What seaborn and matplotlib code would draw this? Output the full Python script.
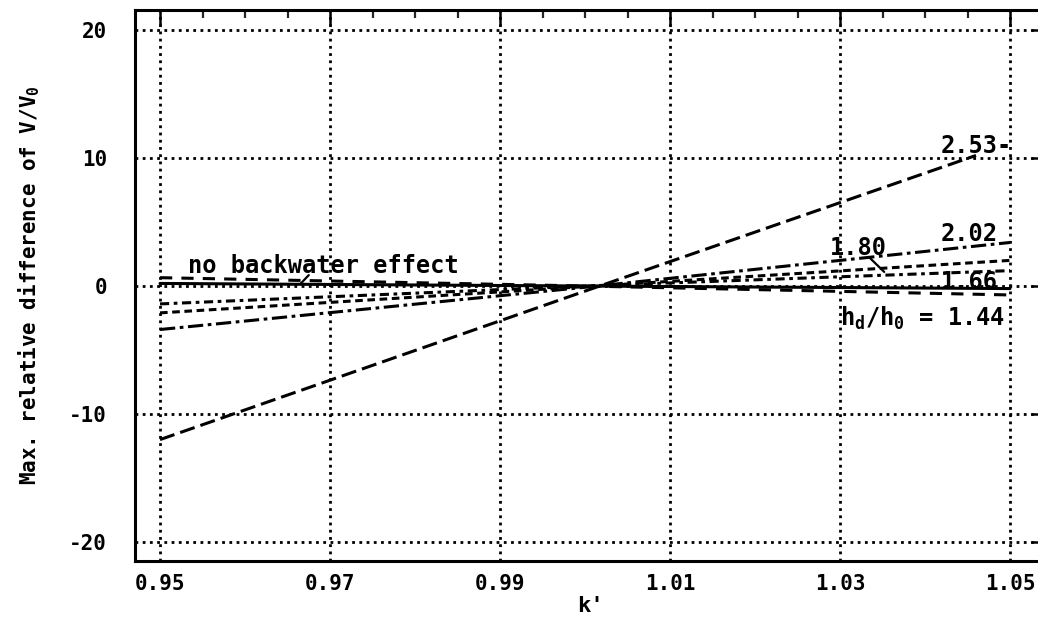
import matplotlib
matplotlib.use("Agg")
import matplotlib.pyplot as plt
import seaborn as sns
import numpy as np
import pandas as pd
from matplotlib.ticker import MultipleLocator, FixedLocator

# ---- data ----
k_common = [0.95, 1.00, 1.05]
no_backwater = [0.2, 0.0, -0.2]
hd_144 = [0.65, 0.0, -0.7]
hd_166 = [-1.4, 0.0, 1.2]
hd_180 = [-2.1, -0.05, 2.0]
hd_202 = [-3.4, -0.1, 3.4]
k_253 = [0.95, 1.00, 1.046]
hd_253 = [-12.0, -0.4, 10.2]

x_ticks = [0.95, 0.97, 0.99, 1.01, 1.03, 1.05]
x_tick_labels = ["0.95", "0.97", "0.99", "1.01", "1.03", "1.05"]
y_ticks = [-20, -10, 0, 10, 20]
y_tick_labels = ["-20", "-10", "0", "10", "20"]

sns.set_theme(style="white")
plt.rcParams['font.family'] = ['DejaVu Sans Mono', 'DejaVu Sans']
plt.rcParams['font.weight'] = 'bold'
plt.rcParams['mathtext.fontset'] = 'custom'
plt.rcParams['mathtext.rm'] = 'DejaVu Sans Mono:bold'
plt.rcParams['mathtext.it'] = 'DejaVu Sans Mono:bold'
plt.rcParams['mathtext.bf'] = 'DejaVu Sans Mono:bold'

fig = plt.figure(figsize=(10.38, 6.28), dpi=100)
ax = fig.add_axes([135/1038, 1-561/628, (1046-135)/1038, (561-10)/628])

ax.set_xlim(0.95 - 25/8500, 0.95 + (1046-160)/8500)
ax.set_ylim(-(561-286)/12.8, (286-10)/12.8)

series = [
    ("no backwater", k_common, no_backwater, '-'),
    ("1.44", k_common, hd_144, (0, (4, 3))),
    ("1.66", k_common, hd_166, (0, (3, 1.5, 1.2, 1.5))),
    ("1.80", k_common, hd_180, (0, (2.5, 1.5))),
    ("2.02", k_common, hd_202, (0, (5, 1.5, 1.2, 1.5))),
    ("2.53", k_253, hd_253, (0, (5, 2))),
]
for name, kx, vy, ls in series:
    df = pd.DataFrame({"k": kx, "v": vy})
    sns.lineplot(data=df, x="k", y="v", ax=ax, color="black", lw=2.2,
                 linestyle=ls, legend=False)

# grid
ax.xaxis.set_major_locator(FixedLocator(x_ticks))
ax.yaxis.set_major_locator(FixedLocator(y_ticks))
ax.xaxis.set_minor_locator(MultipleLocator(0.005))
ax.yaxis.set_minor_locator(MultipleLocator(2))
ax.set_xticklabels(x_tick_labels)
ax.set_yticklabels(y_tick_labels)
ax.grid(True, which='major', color='black', linestyle=(0, (1, 1.6)), lw=2.0)

ax.tick_params(axis='both', which='major', direction='in', length=11, width=1.8,
               top=True, right=True, labelsize=15, colors='black', pad=9)
ax.tick_params(axis='both', which='minor', direction='in', length=6, width=1.6,
               top=True, right=True)
ax.tick_params(axis='y', which='major', pad=20)
for lab in ax.get_xticklabels() + ax.get_yticklabels():
    lab.set_fontweight('bold')

for sp in ax.spines.values():
    sp.set_color('black')
    sp.set_linewidth(2.2)

ax.set_xlabel("k'", fontsize=16, fontweight='bold', labelpad=2, color='black')
ax.set_ylabel("Max. relative difference of V/V$_0$", fontsize=15,
              fontweight='bold', labelpad=20, color='black')

# annotations
tk = dict(fontsize=17, fontweight='bold', color='black')
ax.text(0.9533, 1.6, "no backwater effect", ha='left', va='center', **tk)
ax.plot([0.9675, 0.9665], [0.85, 0.15], color='black', lw=1.6)
ax.text(1.0502, 10.9, "2.53-", ha='right', va='center', **tk)
ax.text(1.0452, 4.1, "2.02", ha='center', va='center', **tk)
ax.text(1.0322, 3.0, "1.80", ha='center', va='center', **tk)
ax.plot([1.0335, 1.0352], [2.2, 1.1], color='black', lw=1.6)
ax.text(1.0452, 0.3, "1.66", ha='center', va='center', **tk)
ax.text(1.0397, -2.5, "h$_d$/h$_0$ = 1.44", ha='center', va='center', **tk)

fig.savefig("out.png", dpi=100)
